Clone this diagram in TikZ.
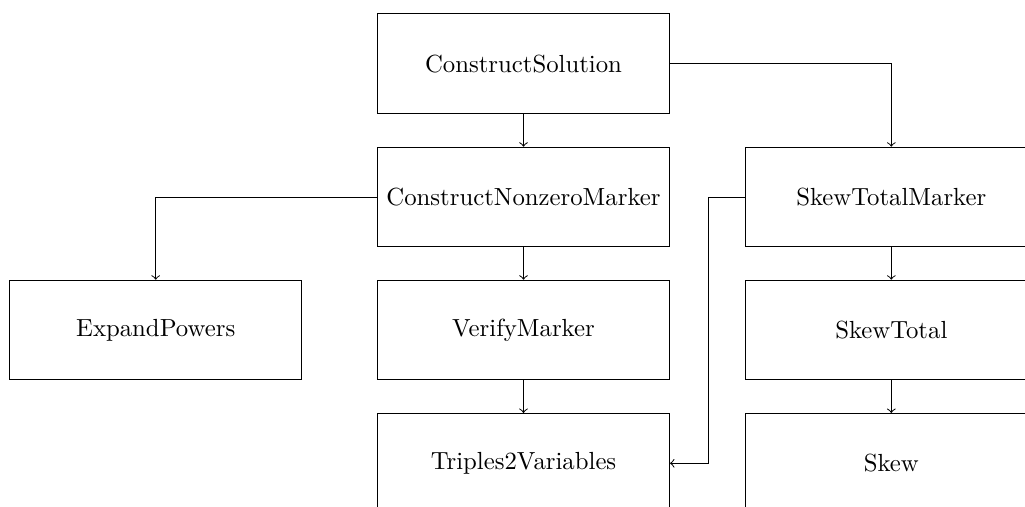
\documentclass[tikz,border=0pt]{standalone}
\usetikzlibrary{calc}
\begin{document}
\begin{tikzpicture}[x=0.4039pt,y=-0.4039pt,
  box/.style={draw,rectangle,minimum width=117.9pt,minimum height=40.2pt,inner sep=0pt},
  link/.style={->,line width=0.4pt}]
\useasboundingbox (0,0) rectangle (1025,507);
\clip (0,0) rectangle (1025,507);
\node[box] (cs)  at (523.5,63.7) {ConstructSolution};
\node[box] (cnm) at (523.5,197) {ConstructNonzeroMarker};
\node[box] (stm) at (891.3,197) {SkewTotalMarker};
\node[box] (ep)  at (155.7,330) {ExpandPowers};
\node[box] (vm)  at (523.5,330) {VerifyMarker};
\node[box] (st)  at (891.3,330) {SkewTotal};
\node[box] (tv)  at (523.5,463.3) {Triples2Variables};
\node[box] (sk)  at (891.3,463.3) {Skew};
\coordinate (bend) at (708,197);
\draw[link] (cs.south) -- (cnm.north);
\draw[link] (cs.east) -| (stm.north);
\draw[link] (cnm.west) -| (ep.north);
\draw[link] (cnm.south) -- (vm.north);
\draw[link] (vm.south) -- (tv.north);
\draw[link] (stm.west) -- (bend) |- (tv.east);
\draw[link] (stm.south) -- (st.north);
\draw[link] (st.south) -- (sk.north);
\end{tikzpicture}
\end{document}
